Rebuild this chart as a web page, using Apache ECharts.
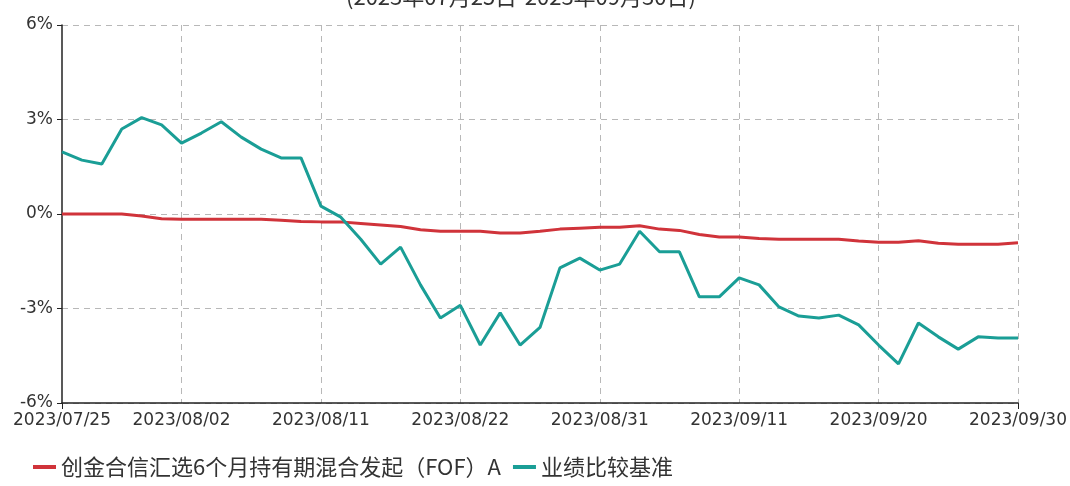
<!DOCTYPE html>
<html>
<head>
<meta charset="utf-8">
<script src="https://cdn.jsdelivr.net/npm/echarts@6/dist/echarts.min.js"></script>
<style>html,body{margin:0;padding:0;background:#fff}#c{width:1070px;height:486px}</style>
</head>
<body>
<div id="c"></div>
<script>
var dates = ["2023/07/25","2023/07/26","2023/07/27","2023/07/28","2023/07/31","2023/08/01","2023/08/02","2023/08/03","2023/08/04","2023/08/07","2023/08/08","2023/08/09","2023/08/10","2023/08/11","2023/08/14","2023/08/15","2023/08/16","2023/08/17","2023/08/18","2023/08/21","2023/08/22","2023/08/23","2023/08/24","2023/08/25","2023/08/28","2023/08/29","2023/08/30","2023/08/31","2023/09/01","2023/09/04","2023/09/05","2023/09/06","2023/09/07","2023/09/08","2023/09/11","2023/09/12","2023/09/13","2023/09/14","2023/09/15","2023/09/18","2023/09/19","2023/09/20","2023/09/21","2023/09/22","2023/09/25","2023/09/26","2023/09/27","2023/09/28","2023/09/30"];
var labelDates = ["2023/07/25","2023/08/02","2023/08/11","2023/08/22","2023/08/31","2023/09/11","2023/09/20","2023/09/30"];
var fundName = "创金合信汇选6个月持有期混合发起（FOF）A";
var benchName = "业绩比较基准";
var fundValues = [0,0,0,0,-0.06,-0.15,-0.17,-0.17,-0.17,-0.17,-0.17,-0.2,-0.24,-0.25,-0.25,-0.3,-0.35,-0.4,-0.5,-0.55,-0.55,-0.55,-0.6,-0.6,-0.55,-0.48,-0.45,-0.42,-0.42,-0.37,-0.48,-0.52,-0.65,-0.73,-0.73,-0.78,-0.8,-0.8,-0.8,-0.8,-0.86,-0.9,-0.9,-0.85,-0.93,-0.96,-0.96,-0.96,-0.91];
var benchValues = [1.97,1.71,1.59,2.7,3.06,2.83,2.25,2.57,2.93,2.44,2.06,1.78,1.78,0.25,-0.1,-0.8,-1.59,-1.05,-2.25,-3.3,-2.9,-4.16,-3.14,-4.16,-3.6,-1.71,-1.4,-1.78,-1.59,-0.55,-1.2,-1.2,-2.63,-2.63,-2.03,-2.25,-2.95,-3.24,-3.3,-3.21,-3.52,-4.16,-4.76,-3.46,-3.9,-4.29,-3.9,-3.94,-3.94];
var yTicks = [-6,-3,0,3,6];
var titleText = "(2023年07月25日-2023年09月30日)";

var showIdx = labelDates.map(function(d){return dates.indexOf(d);});
function isLabel(i){return showIdx.indexOf(i) >= 0;}
var axisFont = 'DejaVu Sans';
var chart = echarts.init(document.getElementById('c'));
chart.setOption({
  animation: false,
  title: {
    text: titleText, left: 341, top: -19,
    textStyle: {fontSize: 22, fontWeight: 'normal', color: '#333', fontFamily: 'Noto Sans CJK SC'}
  },
  color: ['#d0333a', '#1a9e96'],
  legend: {
    left: 28, top: 451, itemGap: 12, itemWidth: 23, itemHeight: 4,
    icon: 'rect',
    textStyle: {fontSize: 22, color: '#333', fontFamily: 'Noto Sans CJK SC'},
    data: [fundName, benchName]
  },
  grid: {left: 62, right: 52, top: 25, bottom: 83, containLabel: false},
  xAxis: {
    type: 'category', boundaryGap: false, data: dates,
    axisLine: {show: true, onZero: false, lineStyle: {color: '#222', width: 1.5}},
    axisTick: {show: true, length: 6, interval: function(i){return i===0 || i===dates.length-1;}, lineStyle: {color: '#222'}},
    axisLabel: {interval: function(i){return isLabel(i);}, margin: 9, fontSize: 17, color: '#333', fontFamily: axisFont, showMaxLabel: true, showMinLabel: true},
    splitLine: {show: true, interval: function(i){return isLabel(i) && i !== 0;}, lineStyle: {color: '#b8b8b8', type: [6, 5], width: 1}}
  },
  yAxis: {
    type: 'value', min: yTicks[0], max: yTicks[yTicks.length-1], interval: 3,
    axisLine: {show: true, lineStyle: {color: '#222', width: 1.5}},
    axisTick: {show: true, length: 5, lineStyle: {color: '#222'}},
    axisLabel: {formatter: '{value}%', fontSize: 17, color: '#333', fontFamily: axisFont, margin: 9},
    splitLine: {show: true, lineStyle: {color: '#b8b8b8', type: [6, 5], width: 1}}
  },
  series: [
    {name: fundName, type: 'line', data: fundValues, symbol: 'none', lineStyle: {width: 3, color: '#d0333a'}},
    {name: benchName, type: 'line', data: benchValues, symbol: 'none', lineStyle: {width: 3, color: '#1a9e96'}}
  ]
});
</script>
</body>
</html>
